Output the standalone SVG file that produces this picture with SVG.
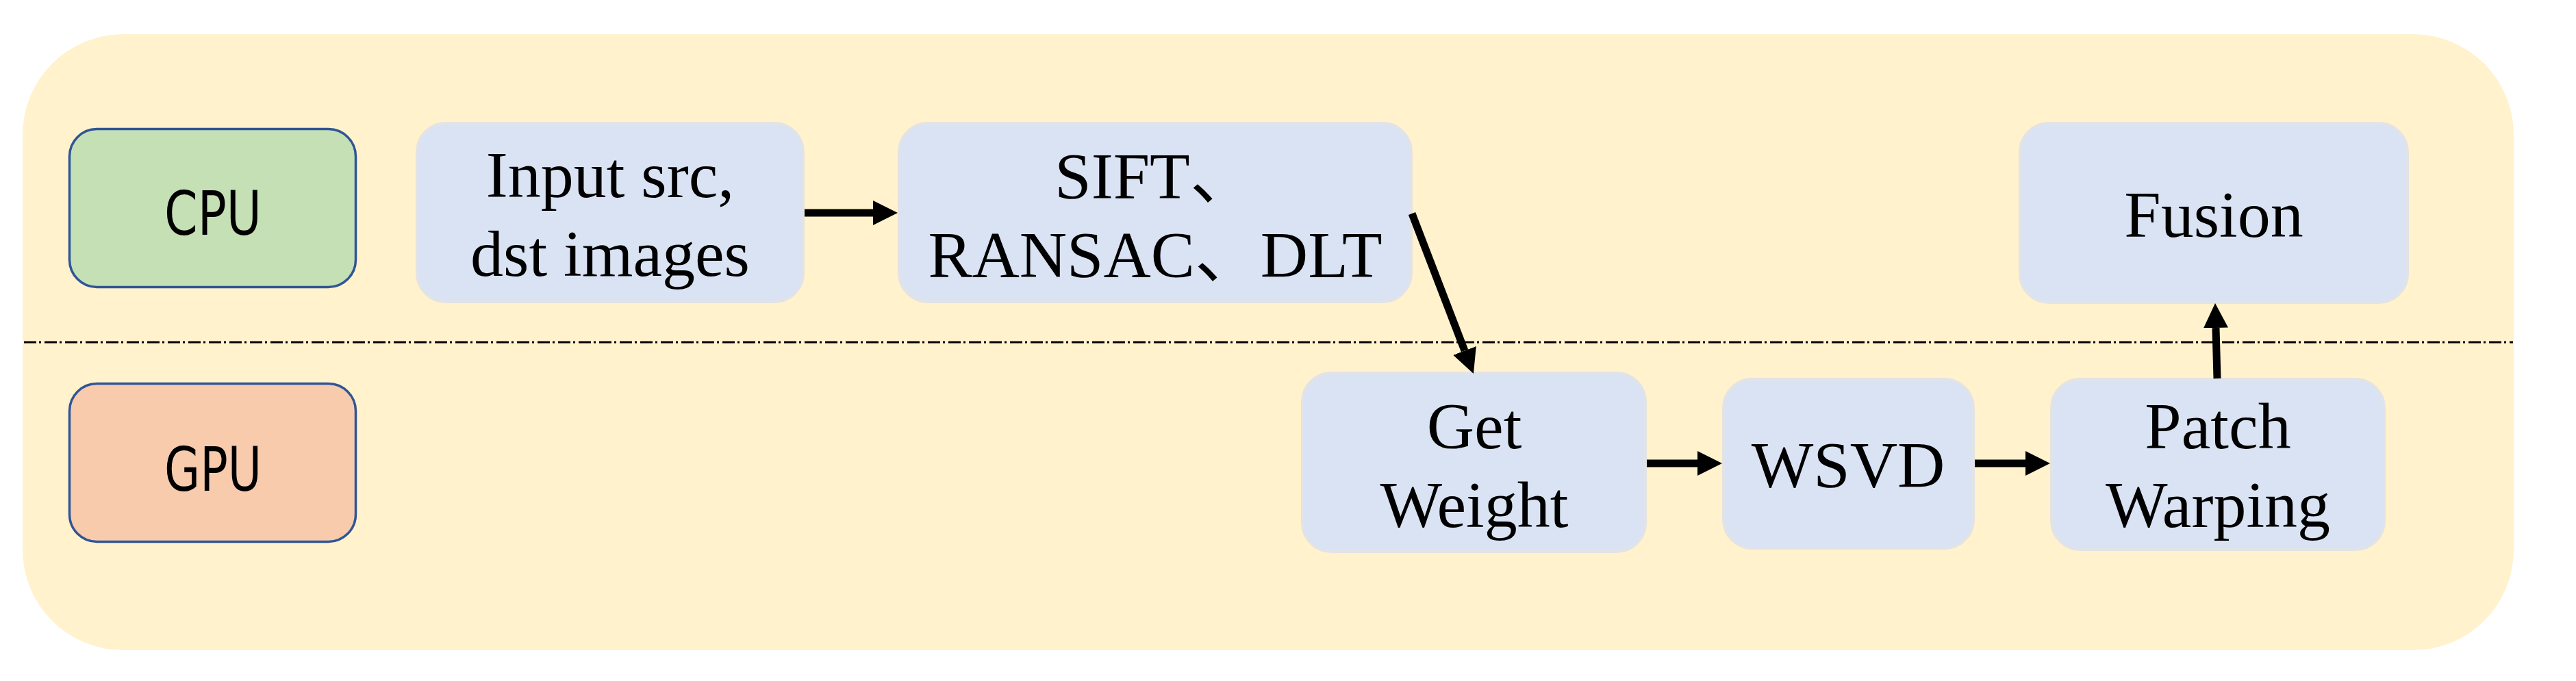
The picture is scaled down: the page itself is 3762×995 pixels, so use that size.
<svg xmlns="http://www.w3.org/2000/svg" width="3762" height="995" viewBox="0 0 3762 995">
  <defs>
    <style>
      .bg { fill: #FFF2CC; }
      .unit { stroke: #2F5597; stroke-width: 3.5; }
      .cpu { fill: #C5E0B4; }
      .gpu { fill: #F8CBAD; }
      .step { fill: #DAE3F3; stroke: #E2E3E6; stroke-width: 4; }
      .lbl { font-family: "Liberation Serif", "Noto Sans CJK SC", serif; font-size: 96px; fill: #000; text-anchor: middle; }
      .unitlbl { font-family: "DejaVu Sans", "Liberation Sans", sans-serif; font-size: 89px; fill: #000; text-anchor: middle; }
      .divider { stroke: #000; stroke-width: 3; stroke-dasharray: 18 4 3 5; fill: none; }
      .conn { stroke: #000; stroke-width: 11; fill: none; marker-end: url(#head); }
    </style>
    <marker id="head" markerUnits="userSpaceOnUse" markerWidth="36" markerHeight="36" refX="0" refY="18" orient="auto" viewBox="0 0 36 36">
      <path d="M0,0 L36,18 L0,36 Z" fill="#000"/>
    </marker>
  </defs>

  <rect class="bg" x="33" y="50" width="3638" height="900" rx="147" ry="147"/>
  <line class="divider" x1="35" y1="500" x2="3670" y2="500"/>

  <g id="cpu">
    <rect class="unit cpu" x="101.5" y="188.5" width="418" height="231" rx="40" ry="40"/>
    <text class="unitlbl" x="311" y="343" textLength="142" lengthAdjust="spacingAndGlyphs">CPU</text>
  </g>
  <g id="gpu">
    <rect class="unit gpu" x="101.5" y="560.5" width="418" height="231" rx="40" ry="40"/>
    <text class="unitlbl" x="311" y="717" textLength="142" lengthAdjust="spacingAndGlyphs">GPU</text>
  </g>

  <g id="input">
    <rect class="step" x="609" y="180" width="564" height="261" rx="42" ry="42"/>
    <text class="lbl" x="891" y="288">Input src,</text>
    <text class="lbl" x="891" y="403">dst images</text>
  </g>
  <g id="sift">
    <rect class="step" x="1313" y="180" width="748" height="261" rx="42" ry="42"/>
    <text class="lbl" x="1687" y="290">SIFT、</text>
    <text class="lbl" x="1687" y="405">RANSAC、DLT</text>
  </g>
  <g id="fusion">
    <rect class="step" x="2950" y="180" width="566" height="262" rx="42" ry="42"/>
    <text class="lbl" x="3233" y="346">Fusion</text>
  </g>
  <g id="getweight">
    <rect class="step" x="1902" y="545" width="501" height="261" rx="42" ry="42"/>
    <text class="lbl" x="2153" y="655">Get</text>
    <text class="lbl" x="2153" y="770">Weight</text>
  </g>
  <g id="wsvd">
    <rect class="step" x="2517" y="554" width="365" height="247" rx="42" ry="42"/>
    <text class="lbl" x="2699" y="712">WSVD</text>
  </g>
  <g id="patchwarping">
    <rect class="step" x="2996" y="554" width="486" height="249" rx="42" ry="42"/>
    <text class="lbl" x="3239" y="655">Patch</text>
    <text class="lbl" x="3239" y="770">Warping</text>
  </g>

  <g id="connectors">
    <line class="conn" x1="1175" y1="311" x2="1275" y2="311"/>
    <line class="conn" x1="2062" y1="312" x2="2139" y2="512.4"/>
    <line class="conn" x1="2405" y1="677" x2="2479" y2="677"/>
    <line class="conn" x1="2884" y1="677" x2="2958" y2="677"/>
    <line class="conn" x1="3238" y1="553" x2="3236" y2="479"/>
  </g>
</svg>
